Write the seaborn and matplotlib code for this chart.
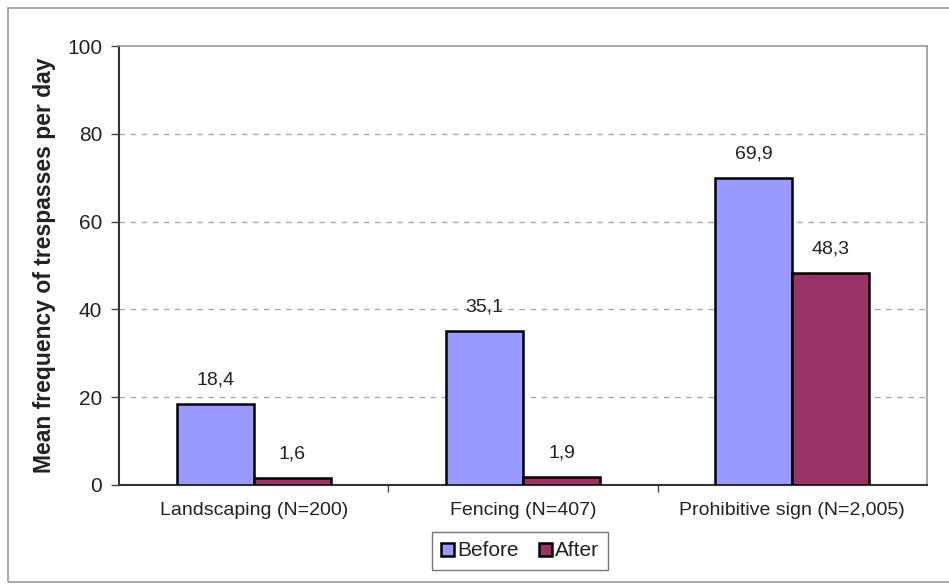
import matplotlib
matplotlib.use("Agg")
import matplotlib.pyplot as plt
import seaborn as sns
import pandas as pd
from matplotlib.patches import Rectangle

categories = ["Landscaping (N=200)", "Fencing (N=407)", "Prohibitive sign (N=2,005)"]
series = ["Before", "After"]
before = [18.4, 35.1, 69.9]
after = [1.6, 1.9, 48.3]
yticks = [0, 20, 40, 60, 80, 100]

df = pd.DataFrame({
    "category": categories * 2,
    "period": ["Before"] * 3 + ["After"] * 3,
    "value": before + after,
})

sns.set_style("white")
plt.rcParams["font.family"] = ["Liberation Sans", "DejaVu Sans"]

fig = plt.figure(figsize=(9.49, 5.84), dpi=100)
ax = fig.add_axes([119 / 949, 1 - 485 / 584, (927 - 119) / 949, (485 - 46) / 584])

palette = {"Before": "#9999FF", "After": "#993366"}
sns.barplot(data=df, x="category", y="value", hue="period", order=categories,
            hue_order=series, palette=palette, width=0.572, saturation=1,
            edgecolor="black", linewidth=1.8, ax=ax, legend=False, zorder=3)

ax.set_xlim(-0.5, 2.5)
ax.set_ylim(0, 100)
ax.set_yticks(yticks)
ax.set_yticklabels([str(t) for t in yticks], fontsize=15, color="#222222")
for t in yticks[1:-1]:
    ax.axhline(t, color="#aaaaaa", linestyle=(0, (4, 4)), linewidth=1, zorder=1)

ax.set_xticks(range(3))
ax.set_xticklabels(categories, fontsize=14, color="#222222")
ax.tick_params(axis="x", length=0, pad=12)
ax.set_xticks([0.5, 1.5], minor=True)
ax.tick_params(axis="x", which="minor", length=5, width=1, color="#444444", direction="out", bottom=True)
ax.tick_params(axis="y", length=6, width=1, color="#444444", direction="out", left=True, pad=6)

ax.set_xlabel("")
ax.set_ylabel("Mean frequency of trespasses per day", fontsize=16.5, fontweight="bold",
              color="#222222", labelpad=8)

for sp in ["left", "bottom"]:
    ax.spines[sp].set_color("#333333")
    ax.spines[sp].set_linewidth(1.5)
for sp in ["top", "right"]:
    ax.spines[sp].set_color("#999999")
    ax.spines[sp].set_linewidth(1.2)

for container in ax.containers:
    labels = [f"{v:.1f}".replace(".", ",") for v in container.datavalues]
    ax.bar_label(container, labels=labels, padding=11, fontsize=14, color="#222222")

handles = [Rectangle((0, 0), 1, 1, facecolor=palette[s], edgecolor="black", linewidth=1.8) for s in series]
leg = fig.legend(handles, series, loc="center", bbox_to_anchor=(520 / 949, 1 - 551 / 584),
                 ncol=2, frameon=True, fancybox=False, fontsize=15, handlelength=0.6,
                 handleheight=0.6, handletextpad=0.15, columnspacing=1.0, borderpad=0.45,
                 edgecolor="#555555")
leg.get_frame().set_linewidth(1)
for t in leg.get_texts():
    t.set_color("#222222")

fig.patches.append(Rectangle((8 / 949, 0.003), 0.995, 1 - 8 / 584 - 0.003, transform=fig.transFigure,
                             fill=False, edgecolor="#999999", linewidth=1.2))

fig.savefig("out.png", dpi=100)
